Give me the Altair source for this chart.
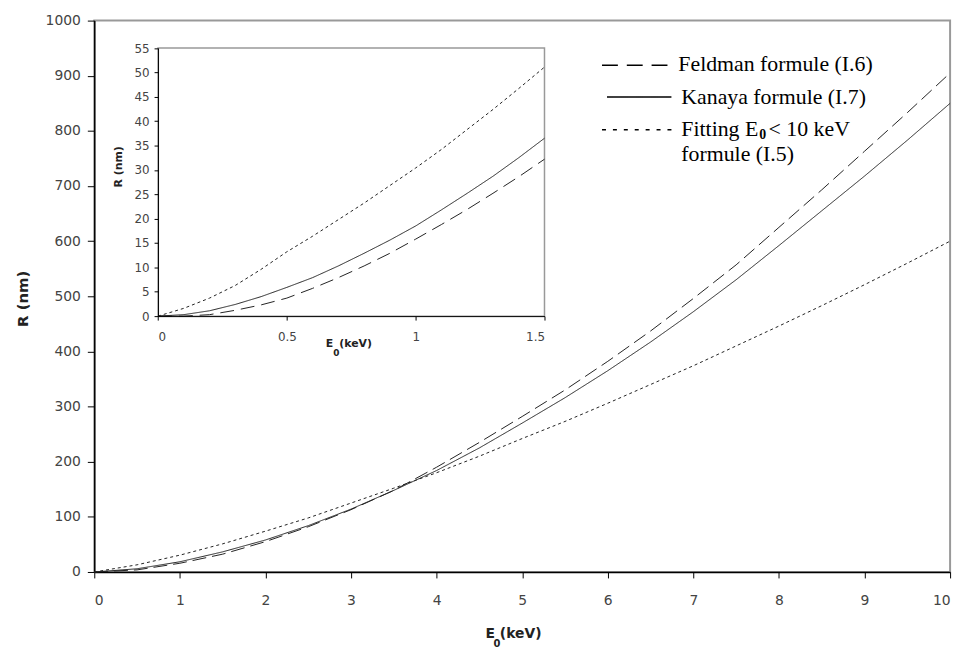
import altair as alt
import pandas as pd

# ---------------- data ----------------
series_names = ["Feldman", "Kanaya", "Fitting"]

main_E = [0, 0.5, 1, 1.5, 2, 2.5, 3, 3.5, 4, 4.5, 5, 5.5, 6, 6.5, 7, 7.5, 8, 8.5, 9, 9.5, 10]
main_feldman = [0, 3.8, 15.8, 32.3, 55, 82, 113, 148, 190, 235, 282, 330, 382, 437, 496, 557, 625, 693, 763, 833, 905]
main_kanaya = [0, 5.8, 18.5, 36.5, 58, 84, 114, 148, 184, 225, 270, 316, 365, 417, 472, 530, 592, 655, 718, 783, 850]
main_fitting = [0, 13, 30.5, 51, 74, 98, 125, 152, 180, 210, 242, 273, 306, 340, 374, 410, 446, 483, 521, 560, 600]

inset_E = [0, 0.1, 0.2, 0.3, 0.4, 0.5, 0.6, 0.7, 0.8, 0.9, 1.0, 1.1, 1.2, 1.3, 1.4, 1.5]
inset_feldman = [0, 0.0, 0.3, 1.2, 2.3, 3.7, 5.7, 7.9, 10.3, 12.9, 15.8, 18.8, 21.9, 25.2, 28.6, 32.2]
inset_kanaya = [0, 0.3, 1.1, 2.4, 4.0, 5.9, 7.9, 10.3, 12.9, 15.6, 18.5, 21.8, 25.2, 28.7, 32.5, 36.5]
inset_fitting = [0, 1.6, 3.7, 6.3, 9.6, 13.2, 16.4, 19.8, 23.2, 26.8, 30.4, 34.2, 38.3, 42.4, 46.7, 51.1]

main_x_ticks = [0, 1, 2, 3, 4, 5, 6, 7, 8, 9, 10]
main_y_ticks = [0, 100, 200, 300, 400, 500, 600, 700, 800, 900, 1000]
inset_x_ticks = [0, 0.5, 1, 1.5]
inset_y_ticks = [0, 5, 10, 15, 20, 25, 30, 35, 40, 45, 50, 55]
inset_x_domain = [0, 1.5]
inset_y_domain = [0, 55]

# ---------------- tables ----------------
def long_table(E, cols):
    rows = []
    for name, vals in zip(series_names, cols):
        for e, v in zip(E, vals):
            rows.append({"E": e, "R": v, "series": name})
    return pd.DataFrame(rows)

df_main = long_table(main_E, [main_feldman, main_kanaya, main_fitting])
df_inset = long_table(inset_E, [inset_feldman, inset_kanaya, inset_fitting])
df_frame = pd.DataFrame({"x0": [inset_x_domain[0]], "x1": [inset_x_domain[1]],
                         "y0": [inset_y_domain[0]], "y1": [inset_y_domain[1]]})

W, H = 863, 556
SANS = "DejaVu Sans"
SERIF = "Liberation Serif"
LINE_COLOR = "#222"


def label(txt, x, y, size, font, weight="normal", align="left", color="#000"):
    return alt.Chart(pd.DataFrame({"t": [txt]})).mark_text(
        align=align, baseline="middle", font=font, fontSize=size,
        fontWeight=weight, color=color
    ).encode(x=alt.value(x), y=alt.value(y), text="t:N")


def legend_rule(x1, x2, y, dash):
    return alt.Chart(pd.DataFrame({"t": [0]})).mark_rule(
        color="black", strokeWidth=1.5, strokeDash=dash
    ).encode(x=alt.value(x1), x2=alt.value(x2), y=alt.value(y))


# ---------------- main plot ----------------
main_x_axis = alt.Axis(values=main_x_ticks, format="d", tickSize=6, labelPadding=16,
                       labelFont=SANS, labelFontSize=14, labelColor="#444",
                       domainColor="black", domainWidth=1.5, tickColor="black",
                       grid=False)
main_y_axis = alt.Axis(values=main_y_ticks, format="d", tickSize=7, labelPadding=7,
                       labelFont=SANS, labelFontSize=14, labelColor="#444",
                       domainColor="black", domainWidth=1.5, tickColor="black",
                       grid=False, title="R (nm)", titleFont=SANS, titleFontSize=15,
                       titleFontWeight="bold", titleColor="#222", titleX=-72, titleY=280,
                       titleAlign="center", titleBaseline="middle")

main_lines = alt.Chart(df_main).mark_line(color=LINE_COLOR, strokeWidth=1).encode(
    x=alt.X("E:Q", scale=alt.Scale(domain=[0, 10], nice=False), axis=main_x_axis, title=None),
    y=alt.Y("R:Q", scale=alt.Scale(domain=[0, 1000], nice=False), axis=main_y_axis),
    strokeDash=alt.StrokeDash("series:N",
                              scale=alt.Scale(domain=series_names, range=[[14, 6], [1, 0], [3, 3]]),
                              legend=None),
    detail="series:N",
)

main_layer = alt.layer(
    main_lines,
    # x axis title E0(keV)
    label("E", 404, 619, 14, SANS, "bold", "right", "#222"),
    label("0", 406, 629, 10, SANS, "bold", "center", "#222"),
    label("(keV)", 409, 619, 14, SANS, "bold", "left", "#222"),
    # legend
    legend_rule(512, 582, 45, [16, 9]),
    label("Feldman formule (I.6)", 589, 44, 22, SERIF),
    legend_rule(517, 582, 77, [1, 0]),
    label("Kanaya formule (I.7)", 592, 77, 22, SERIF),
    legend_rule(512, 582, 110, [4, 7]),
    label("Fitting E", 592, 109, 22, SERIF),
    label("0", 674, 115, 14, SERIF, "bold", "center"),
    label("< 10 keV", 680, 109, 22, SERIF),
    label("formule (I.5)", 592, 135, 22, SERIF),
)

# ---------------- inset ----------------
inset_x_scale = alt.Scale(domain=inset_x_domain, range=[64.3, 454], nice=False)
inset_y_scale = alt.Scale(domain=inset_y_domain, range=[298, 27.7], nice=False)

inset_x_axis = alt.Axis(values=inset_x_ticks, format="~g", orient="bottom", offset=-258,
                        tickSize=4, labelPadding=12, labelFont=SANS, labelFontSize=12,
                        labelColor="#444", domainColor="black", tickColor="black",
                        grid=False, zindex=2)
inset_y_axis = alt.Axis(values=inset_y_ticks, format="d", orient="left", offset=-64.3,
                        tickSize=4, labelPadding=5, labelFont=SANS, labelFontSize=12,
                        labelColor="#444", domainColor="black", tickColor="black",
                        grid=False, zindex=2, title="R (nm)", titleFont=SANS,
                        titleFontSize=11, titleFontWeight="bold", titleColor="#222",
                        titleX=-40, titleY=147, titleAlign="center", titleBaseline="middle")

inset_frame = alt.Chart(df_frame).mark_rect(fill="white", stroke="#999", strokeWidth=1.5).encode(
    x=alt.X("x0:Q", scale=inset_x_scale, axis=inset_x_axis, title=None),
    x2="x1:Q",
    y=alt.Y("y0:Q", scale=inset_y_scale, axis=inset_y_axis),
    y2="y1:Q",
)

inset_lines = alt.Chart(df_inset).mark_line(color=LINE_COLOR, strokeWidth=1).encode(
    x=alt.X("E:Q", scale=inset_x_scale, axis=inset_x_axis, title=None),
    y=alt.Y("R:Q", scale=inset_y_scale, axis=inset_y_axis),
    strokeDash=alt.StrokeDash("series:N",
                              scale=alt.Scale(domain=series_names, range=[[14, 7], [1, 0], [3, 3]]),
                              legend=None),
    detail="series:N",
)

inset_layer = alt.layer(
    inset_frame,
    inset_lines,
    label("E", 241, 326, 11, SANS, "bold", "right", "#222"),
    label("0", 244, 335, 9, SANS, "bold", "center", "#222"),
    label("(keV)", 247, 326, 11, SANS, "bold", "left", "#222"),
)

chart = alt.layer(main_layer, inset_layer).resolve_scale(
    x="independent", y="independent", strokeDash="independent"
).properties(
    width=W, height=H,
    padding={"left": 87, "top": 10, "right": 11, "bottom": 80},
    autosize=alt.AutoSizeParams(type="none"),
).configure_view(stroke="#999", strokeWidth=2)

chart.save("out.html", embed_options={"renderer": "svg", "actions": False})
